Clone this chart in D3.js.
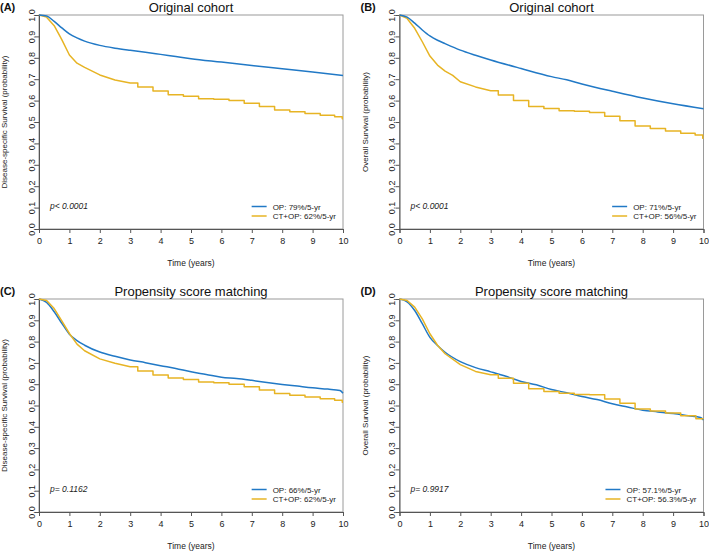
<!DOCTYPE html>
<html>
<head>
<meta charset="utf-8">
<script src="https://cdn.jsdelivr.net/npm/d3@7"></script>
<style>
  body { margin: 0; background: #fff; }
  svg { font-family: "Liberation Sans", Arial, sans-serif; }
</style>
</head>
<body>
<svg width="709" height="552"></svg>
<script>
// panel texts
var panelLetters = ["(A)", "(B)", "(C)", "(D)"];
var panelTitles = ["Original cohort", "Original cohort", "Propensity score matching", "Propensity score matching"];
var yTitles = ["Disease-specific Survival (probability)", "Overall Survival (probability)",
               "Disease-specific Survival (probability)", "Overall Survival (probability)"];
var pValues = ["p< 0.0001", "p< 0.0001", "p= 0.1162", "p= 0.9917"];
var legendOP = ["OP: 79%/5-yr", "OP: 71%/5-yr", "OP: 66%/5-yr", "OP: 57.1%/5-yr"];
var legendCT = ["CT+OP: 62%/5-yr", "CT+OP: 56%/5-yr", "CT+OP: 62%/5-yr", "CT+OP: 56.3%/5-yr"];
var xTicks = [0, 1, 2, 3, 4, 5, 6, 7, 8, 9, 10];
var yTicks = [0, 0.1, 0.2, 0.3, 0.4, 0.5, 0.6, 0.7, 0.8, 0.9, 1.0];

// (A) disease-specific, original cohort
var tA_op = [0, 0.25, 0.5, 0.75, 1, 1.25, 1.5, 2, 2.5, 3, 3.5, 4, 4.5, 5, 6, 7, 8, 9, 10];
var sA_op = [1, 0.995, 0.97, 0.94, 0.912, 0.893, 0.878, 0.858, 0.845, 0.835, 0.826, 0.816, 0.806, 0.796, 0.78, 0.764, 0.749, 0.734, 0.717];
var tA_ct = [0, 0.25, 0.5, 0.75, 1, 1.25, 1.5, 2, 2.5, 3, 3.5, 4, 4.5, 5, 5.5, 6, 6.5, 7, 7.5, 8, 8.5, 9, 9.5, 9.95, 10];
var sA_ct = [1, 0.99, 0.95, 0.885, 0.813, 0.775, 0.755, 0.72, 0.696, 0.682, 0.663, 0.645, 0.627, 0.62, 0.609, 0.606, 0.6, 0.588, 0.573, 0.556, 0.548, 0.54, 0.532, 0.525, 0.515];

// (B) overall, original cohort
var tB_op = [0, 0.25, 0.5, 0.75, 1, 1.25, 1.5, 2, 2.5, 3, 4, 5, 5.5, 6, 7, 8, 9, 10];
var sB_op = [1, 0.99, 0.962, 0.93, 0.902, 0.882, 0.866, 0.836, 0.812, 0.79, 0.75, 0.712, 0.697, 0.678, 0.644, 0.612, 0.585, 0.562];
var tB_ct = [0, 0.25, 0.5, 0.75, 1, 1.25, 1.5, 1.75, 2, 2.5, 3, 3.5, 4, 4.5, 5, 5.5, 6, 6.5, 7, 7.5, 8, 8.5, 9, 9.5, 9.95, 10];
var sB_ct = [1, 0.984, 0.938, 0.875, 0.808, 0.766, 0.738, 0.718, 0.688, 0.664, 0.646, 0.626, 0.6, 0.572, 0.563, 0.553, 0.55, 0.544, 0.527, 0.506, 0.481, 0.47, 0.458, 0.447, 0.439, 0.424];

// (C) disease-specific, matched
var tC_op = [0, 0.25, 0.5, 0.75, 1, 1.25, 1.5, 2, 2.5, 3, 3.5, 4, 4.5, 5, 5.5, 6, 6.5, 7, 7.5, 8, 8.5, 9, 9.5, 9.9, 10];
var sC_op = [1, 0.984, 0.94, 0.886, 0.835, 0.805, 0.783, 0.751, 0.731, 0.714, 0.701, 0.687, 0.674, 0.658, 0.646, 0.633, 0.627, 0.618, 0.608, 0.599, 0.591, 0.583, 0.577, 0.57, 0.558];
var tC_ct = [0, 0.25, 0.5, 0.75, 1, 1.25, 1.5, 2, 2.5, 3, 3.5, 4, 4.5, 5, 5.5, 6, 6.5, 7, 7.5, 8, 8.5, 9, 9.5, 9.95, 10];
var sC_ct = [1, 0.993, 0.955, 0.897, 0.838, 0.788, 0.757, 0.719, 0.698, 0.682, 0.662, 0.643, 0.629, 0.622, 0.61, 0.607, 0.6, 0.588, 0.573, 0.556, 0.548, 0.54, 0.532, 0.525, 0.515];

// (D) overall, matched
var tD_op = [0, 0.25, 0.5, 0.75, 1, 1.25, 1.5, 2, 2.5, 3, 3.5, 4, 4.5, 5, 5.5, 6, 6.5, 7, 7.5, 8, 8.5, 9, 9.5, 9.9, 10];
var sD_op = [1, 0.987, 0.946, 0.884, 0.82, 0.782, 0.75, 0.706, 0.678, 0.658, 0.637, 0.613, 0.597, 0.575, 0.56, 0.542, 0.528, 0.508, 0.493, 0.478, 0.47, 0.462, 0.452, 0.444, 0.432];
var tD_ct = [0, 0.25, 0.5, 0.75, 1, 1.25, 1.5, 2, 2.5, 3, 3.5, 4, 4.5, 5, 5.5, 6, 6.5, 7, 7.5, 8, 8.5, 9, 9.5, 10];
var sD_ct = [1, 0.993, 0.962, 0.907, 0.837, 0.783, 0.743, 0.692, 0.66, 0.644, 0.628, 0.604, 0.579, 0.566, 0.558, 0.552, 0.55, 0.53, 0.51, 0.484, 0.474, 0.465, 0.452, 0.438];

var opTimes = [tA_op, tB_op, tC_op, tD_op], opSurv = [sA_op, sB_op, sC_op, sD_op];
var ctTimes = [tA_ct, tB_ct, tC_ct, tD_ct], ctSurv = [sA_ct, sB_ct, sC_ct, sD_ct];

var colOP = "#2179c6", colCT = "#e7b424";
var ff = "Liberation Sans, Arial, sans-serif";

// plot boxes: [left, right, top, bottom]
var boxes = [[39, 343, 15, 229], [399.5, 703.5, 15, 229],
             [39, 343, 299, 512], [399.5, 703.5, 299, 512]];

var svg = d3.select("svg");

boxes.forEach(function(b, i) {
    var scX = d3.scaleLinear().domain([0, 10]).range([b[0], b[1]]);
    var scY = d3.scaleLinear().domain([0, 1]).range([b[3], b[2]]);
    var g = svg.append("g").attr("id", "panel" + i);

    // frame
    g.append("rect")
        .attr("x", b[0]).attr("y", b[2])
        .attr("width", b[1] - b[0]).attr("height", b[3] - b[2])
        .attr("fill", "none").attr("stroke", "#9a9a9a").attr("stroke-width", 1);

    // x axis
    var ax = g.append("g").attr("transform", "translate(0," + b[3] + ")")
        .call(d3.axisBottom(scX).tickValues(xTicks).tickSize(4).tickPadding(5).tickFormat(d3.format("d")));
    ax.select(".domain").attr("stroke", "#555");
    ax.selectAll(".tick line").attr("stroke", "#555");
    ax.selectAll("text").attr("font-size", 9).attr("fill", "#222").attr("font-family", ff);

    // y axis, labels parallel to the axis
    var ay = g.append("g").attr("transform", "translate(" + b[0] + ",0)")
        .call(d3.axisLeft(scY).tickValues(yTicks).tickSize(4).tickFormat(d3.format(".1f")));
    ay.select(".domain").attr("stroke", "#555");
    ay.selectAll(".tick line").attr("stroke", "#555");
    ay.selectAll("text")
        .attr("font-size", 9).attr("fill", "#222").attr("font-family", ff)
        .attr("text-anchor", "middle")
        .attr("x", null)
        .attr("transform", "translate(-7.5,0) rotate(-90)")
        .attr("dy", "0.35em");

    // titles
    g.append("text")
        .attr("x", (b[0] + b[1]) / 2).attr("y", b[2] - 3)
        .attr("text-anchor", "middle").attr("font-size", 13).attr("fill", "#111")
        .text(panelTitles[i]);
    g.append("text")
        .attr("x", b[0] - 39).attr("y", b[2] - 4)
        .attr("font-size", 11).attr("font-weight", "bold").attr("fill", "#111")
        .text(panelLetters[i]);
    g.append("text")
        .attr("transform", "translate(" + (b[0] - 32) + "," + ((b[2] + b[3]) / 2) + ") rotate(-90)")
        .attr("text-anchor", "middle").attr("font-size", 8).attr("fill", "#222")
        .text(yTitles[i]);
    g.append("text")
        .attr("x", (b[0] + b[1]) / 2).attr("y", b[3] + 37)
        .attr("text-anchor", "middle").attr("font-size", 8.5).attr("fill", "#222")
        .text("Time (years)");

    // p value
    g.append("text")
        .attr("x", b[0] + 11).attr("y", b[3] - 20)
        .attr("font-size", 8.5).attr("font-style", "italic").attr("fill", "#222")
        .text(pValues[i]);

    // curves: OP smooth; CT+OP straight early, stepped once events thin out
    var lineOP = d3.line()
        .x(function(d) { return scX(d[0]); })
        .y(function(d) { return scY(d[1]); })
        .curve(d3.curveMonotoneX);
    var lineEarly = d3.line()
        .x(function(d) { return scX(d[0]); })
        .y(function(d) { return scY(d[1]); });
    var lineLate = d3.line()
        .x(function(d) { return scX(d[0]); })
        .y(function(d) { return scY(d[1]); })
        .curve(d3.curveStep);

    var ctData = ctTimes[i].map(function(t, k) { return [t, ctSurv[i][k]]; });
    var opData = opTimes[i].map(function(t, k) { return [t, opSurv[i][k]]; });
    var ctPath = lineEarly(ctData.filter(function(d) { return d[0] <= 3; })) +
                 lineLate(ctData.filter(function(d) { return d[0] >= 3; })).replace(/^M/, "L");

    // in the matched panels the OP line lies under CT+OP, in the original ones over it
    var order = i < 2 ? [["ct", ctPath], ["op", lineOP(opData)]] : [["op", lineOP(opData)], ["ct", ctPath]];
    order.forEach(function(s) {
        g.append("path")
            .attr("fill", "none")
            .attr("stroke", s[0] == "op" ? colOP : colCT)
            .attr("stroke-width", 1.5)
            .attr("stroke-linejoin", "round")
            .attr("d", s[1]);
    });

    // legend, right aligned inside the plot
    var lg = g.append("g");
    var t1 = lg.append("text").attr("font-size", 8).attr("fill", "#222").text(legendOP[i]);
    var t2 = lg.append("text").attr("font-size", 8).attr("fill", "#222").text(legendCT[i]);
    var w = Math.max(t1.node().getComputedTextLength(), t2.node().getComputedTextLength());
    var tx = b[1] - 7 - w;
    [[t1, b[3] - 22.5, colOP], [t2, b[3] - 13, colCT]].forEach(function(r) {
        r[0].attr("x", tx).attr("y", r[1] + 3);
        lg.append("line")
            .attr("x1", tx - 21).attr("x2", tx - 6)
            .attr("y1", r[1]).attr("y2", r[1])
            .attr("stroke", r[2]).attr("stroke-width", 1.5);
    });
});
</script>
</body>
</html>
